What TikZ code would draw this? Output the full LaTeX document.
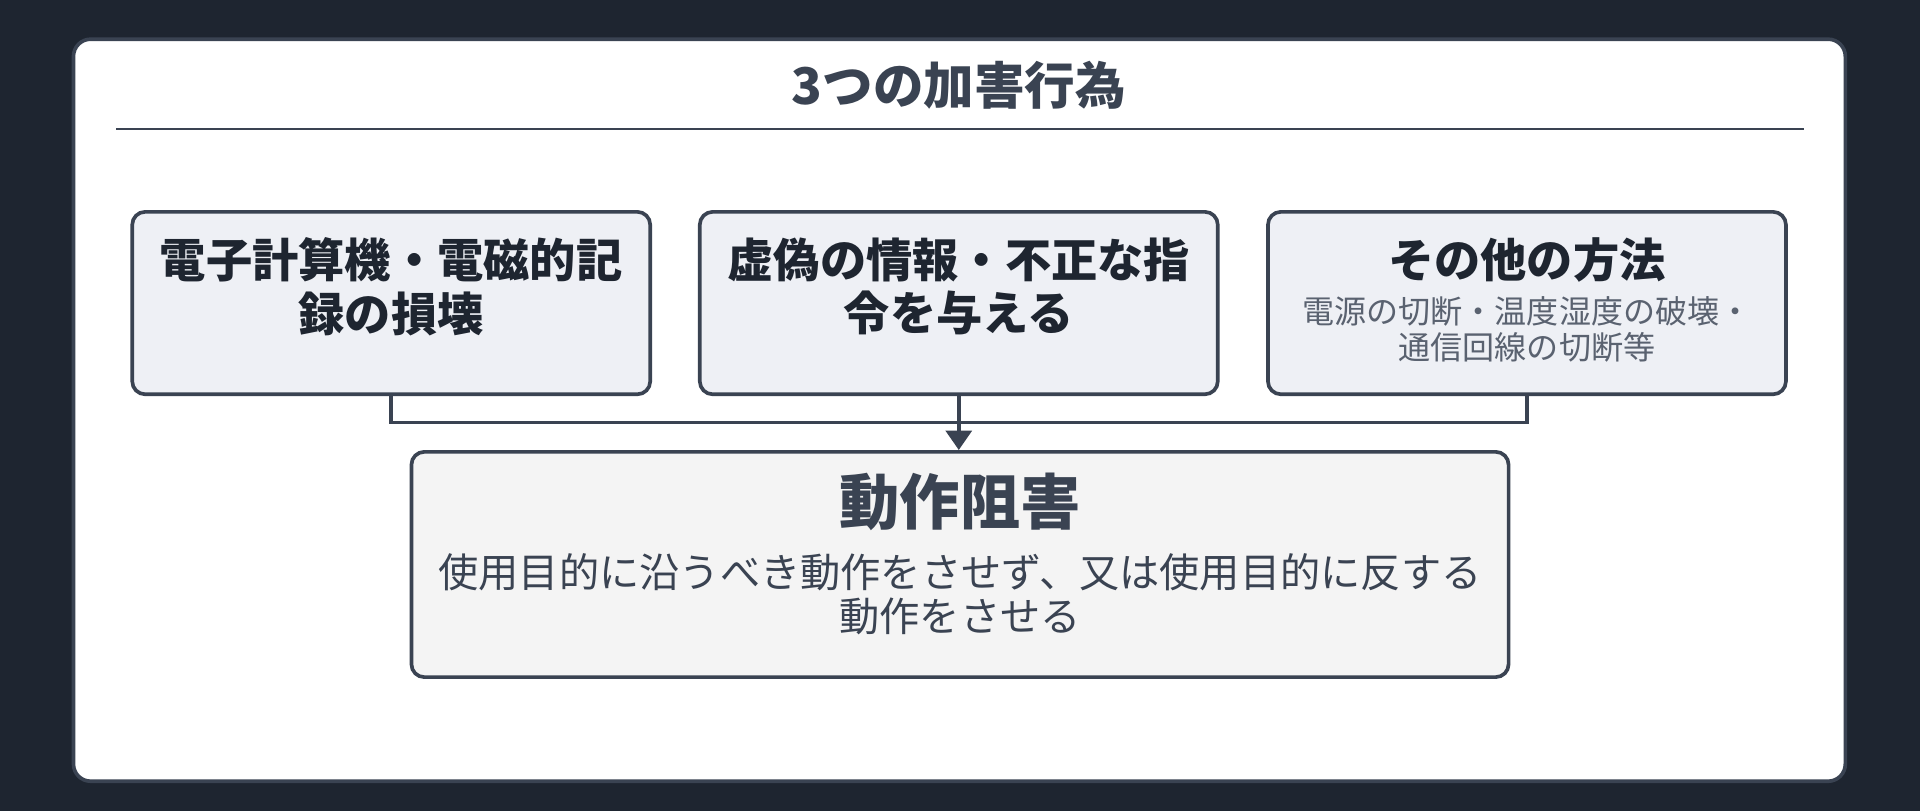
\documentclass[tikz,border=0pt]{standalone}
\usepackage{fontspec}
\setmainfont{Noto Sans CJK JP}
\usetikzlibrary{arrows.meta}
\definecolor{bgdark}{HTML}{1E2530}
\definecolor{ink}{HTML}{3A4352}
\definecolor{boxfill}{HTML}{EEF0F5}
\definecolor{mainfill}{HTML}{F4F4F4}
\definecolor{subgray}{HTML}{5A6270}
\begin{document}
\begin{tikzpicture}[x=0.02cm, y=-0.02cm,
  act/.style={draw=ink, line width=1.7pt, fill=boxfill, rounded corners=6pt, minimum width=423*0.02cm, minimum height=149*0.02cm},
  actlabel/.style={align=center, text=bgdark, font=\fontsize{21.5}{25}\selectfont\bfseries},
  link/.style={draw=ink, line width=1.7pt}]
% Background and card
\fill[bgdark] (0,0) rectangle (1568,662);
\draw[ink, line width=1.7pt, fill=white, rounded corners=8pt] (60,32) rectangle (1507,638);

% Title
\node[font=\fontsize{23.5}{28}\selectfont\bfseries, text=ink] (title) at (783,70) {3つの加害行為};
\draw[ink, line width=0.9pt] (95,105) -- (1473,105);

% The three acts
\node[act] (damage) at (319.5,247.5) {};
\node[actlabel] (damagetext) at (319.5,234) {電子計算機・電磁的記\\録の損壊};
\node[act] (falsecmd) at (783,247.5) {};
\node[actlabel] (falsetext) at (783,234) {虚偽の情報・不正な指\\令を与える};
\node[act] (other) at (1247,247.5) {};
\node[actlabel] (othertitle) at (1247,212) {その他の方法};
\node[align=center, text=subgray, font=\fontsize{14.9}{17}\selectfont] (otherdetail) at (1247,269) {電源の切断・温度湿度の破壊・\\通信回線の切断等};

% Result
\node[draw=ink, line width=1.7pt, fill=mainfill, rounded corners=6pt, minimum width=896*0.02cm, minimum height=184*0.02cm] (result) at (784,461) {};
\node[text=ink, font=\fontsize{28}{32}\selectfont\bfseries] (resulttitle) at (784,410) {動作阻害};
\node[align=center, text=ink, font=\fontsize{18.7}{20.4}\selectfont] (resultdetail) at (784,485) {使用目的に沿うべき動作をさせず、又は使用目的に反する\\動作をさせる};

% Connectors
\coordinate (join) at (783,345);
\draw[link] (damage.south) |- (join);
\draw[link] (other.south) |- (join);
\draw[link, -{Triangle[length=9pt, width=12pt]}] (falsecmd.south) -- (result.north -| falsecmd.south);
\end{tikzpicture}
\end{document}
